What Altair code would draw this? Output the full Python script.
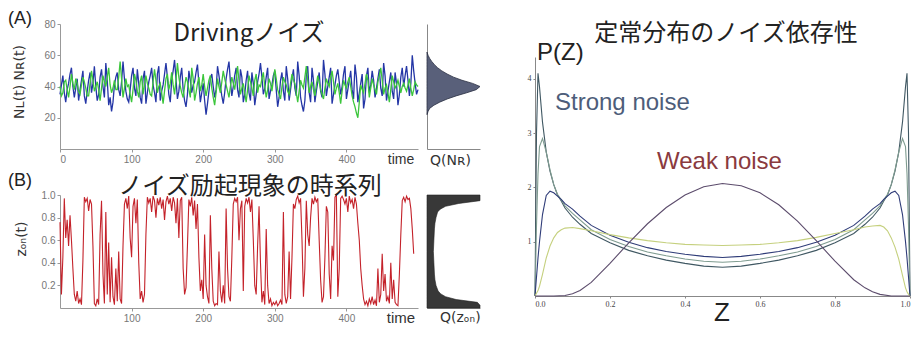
import altair as alt
import pandas as pd

# ---------------- Panel A : driving noise ----------------
A_BLUE = [35, 41, 47, 36, 30, 38, 42, 48, 52, 40,
          33, 39, 45, 31, 38, 44, 50, 34, 29, 37,
          44, 49, 36, 42, 53, 40, 31, 35, 46, 51,
          40, 33, 55, 44, 28, 33, 24, 30, 41, 46,
          49, 38, 34, 43, 56, 45, 37, 32, 30, 38,
          47, 52, 39, 34, 51, 42, 33, 29, 45, 50,
          29, 36, 43, 47, 52, 41, 36, 30, 48, 53,
          31, 37, 41, 48, 55, 46, 35, 30, 44, 50,
          57, 45, 32, 37, 46, 52, 38, 31, 27, 35,
          50, 44, 36, 41, 43, 49, 54, 42, 30, 36,
          42, 31, 22, 29, 37, 45, 48, 40, 33, 38,
          53, 47, 40, 34, 29, 36, 45, 51, 56, 43,
          34, 40, 47, 52, 38, 33, 51, 46, 30, 35,
          44, 50, 36, 31, 49, 42, 28, 35, 43, 48,
          55, 46, 35, 39, 46, 52, 32, 37, 41, 47,
          50, 38, 27, 33, 44, 49, 37, 31, 53, 45,
          31, 38, 45, 51, 39, 34, 56, 47, 33, 28,
          24, 31, 47, 53, 36, 30, 52, 44, 30, 37,
          43, 49, 37, 33, 57, 48, 34, 40, 46, 52,
          29, 35, 41, 47, 51, 43, 35, 40, 48, 53,
          32, 38, 44, 50, 38, 32, 54, 46, 30, 36,
          42, 48, 26, 32, 47, 52, 36, 41, 50, 44,
          33, 39, 45, 51, 39, 34, 55, 47, 31, 37,
          43, 49, 37, 32, 49, 42, 28, 35, 46, 52,
          40, 47, 53, 44, 34, 42, 60, 50, 42, 35,
          38]
A_GREEN = [40, 34, 36, 43, 44, 38, 33, 40, 48, 42,
           38, 45, 42, 37, 35, 41, 46, 43, 39, 34,
           34, 42, 50, 44, 37, 40, 43, 38, 31, 39,
           47, 43, 40, 46, 52, 41, 36, 39, 44, 38,
           38, 46, 56, 45, 33, 39, 45, 40, 41, 35,
           30, 38, 48, 44, 37, 33, 43, 47, 35, 41,
           47, 42, 39, 35, 34, 43, 51, 44, 36, 40,
           42, 36, 29, 37, 45, 48, 38, 42, 49, 41,
           35, 44, 55, 46, 40, 36, 33, 40, 46, 43,
           38, 33, 52, 45, 31, 36, 42, 46, 37, 41,
           48, 40, 34, 39, 44, 47, 39, 33, 28, 36,
           45, 40, 36, 43, 50, 45, 41, 37, 33, 40,
           46, 42, 38, 45, 53, 44, 35, 39, 42, 36,
           30, 38, 47, 43, 39, 34, 44, 48, 36, 41,
           40, 45, 49, 40, 33, 38, 45, 42, 37, 44,
           51, 45, 38, 35, 32, 40, 46, 43, 41, 37,
           35, 42, 48, 44, 42, 36, 30, 37, 44, 41,
           39, 46, 53, 44, 36, 40, 43, 38, 34, 41,
           47, 43, 38, 35, 32, 39, 45, 42, 40, 46,
           50, 43, 35, 39, 42, 36, 29, 37, 44, 41,
           39, 43, 46, 40, 34, 30, 27, 23, 20, 30,
           41, 38, 36, 42, 48, 44, 33, 39, 45, 41,
           38, 35, 43, 47, 52, 44, 35, 39, 41, 36,
           30, 38, 47, 43, 39, 41, 44, 40, 36, 40,
           42, 39, 37, 41, 45, 39, 34, 38, 43, 41,
           40]
A_STEP = 2
A_HIST_N = [22, 24, 26, 28, 30, 32, 34, 36, 38, 40, 42,
            44, 46, 48, 50, 52, 54, 56, 58, 60, 62]
A_HIST_Q = [0.0, 0.02, 0.05, 0.13, 0.24, 0.38, 0.55, 0.75, 0.93, 1.0, 0.86,
            0.66, 0.5, 0.38, 0.28, 0.2, 0.14, 0.09, 0.05, 0.02, 0.0]
A_XTICKS = [0, 100, 200, 300, 400]
A_YTICKS = [20, 40, 60, 80]

# ---------------- Panel B : noise induced switching ----------------
B_Z = [0.76, 0.12, 0.45, 0.97, 0.62, 0.78, 0.55, 0.82, 0.6, 0.35,
       0.12, 0.06, 0.15, 0.04, 0.08, 0.03, 0.42, 0.98, 0.94, 0.97,
       0.86, 0.96, 0.92, 0.55, 0.04, 0.02, 0.08, 0.03, 0.65, 0.95,
       0.3, 0.04, 0.85, 0.12, 0.58, 0.05, 0.45, 0.1, 0.03, 0.35,
       0.06, 0.5, 0.08, 0.04, 0.55, 0.92, 0.97, 0.88, 0.99, 0.62,
       0.45, 0.9, 0.97, 0.75, 0.96, 0.4, 0.08, 0.15, 0.05, 0.12,
       0.65, 0.98, 0.93, 0.97, 0.85, 0.99, 0.95, 0.8, 0.97, 0.91,
       0.98, 0.88, 0.96, 0.78, 0.94, 0.99, 0.92, 0.97, 0.86, 0.98,
       0.93, 0.75, 0.97, 0.62, 0.95, 0.98, 0.35, 0.12, 0.18, 0.55,
       0.96, 0.9, 0.98, 0.82, 0.95, 0.7, 0.92, 0.45, 0.15, 0.25,
       0.08, 0.65, 0.2, 0.1, 0.04, 0.82, 0.35, 0.06, 0.02, 0.04,
       0.03, 0.5, 0.15, 0.05, 0.2, 0.04, 0.88, 0.35, 0.1, 0.06,
       0.45, 0.92, 0.97, 0.94, 0.98, 0.6, 0.88, 0.95, 0.15, 0.9,
       0.97, 0.93, 0.98, 0.85, 0.96, 0.6, 0.2, 0.12, 0.55, 0.9,
       0.4, 0.05, 0.15, 0.03, 0.7, 0.2, 0.04, 0.08, 0.02, 0.05,
       0.03, 0.06, 0.02, 0.04, 0.07, 0.03, 0.85, 0.12, 0.04, 0.1,
       0.5, 0.08, 0.45, 0.92, 0.88, 0.96, 0.99, 0.93, 0.97, 0.6,
       0.1, 0.35, 0.95, 0.65, 0.55, 0.8, 0.97, 0.92, 0.98, 0.94,
       0.97, 0.6, 0.25, 0.05, 0.1, 0.45, 0.9, 0.85, 0.3, 0.08,
       0.55, 0.42, 0.98, 1.0, 0.1, 0.35, 0.97, 0.99, 0.96, 0.92,
       0.97, 0.85, 0.99, 0.93, 0.96, 0.88, 0.98, 0.92, 0.75, 0.6,
       0.35, 0.2, 0.08, 0.03, 0.06, 0.02, 0.08, 0.04, 0.1, 0.03,
       0.07, 0.02, 0.35, 0.05, 0.12, 0.48, 0.15, 0.3, 0.06, 0.1,
       0.04, 0.4, 0.08, 0.25, 0.05, 0.03, 0.02, 0.3, 0.65, 0.95,
       0.98, 0.94, 0.99, 0.96, 0.97, 0.88, 0.7, 0.48]
B_STEP = 2
B_HIST_Z = [0.0, 0.025, 0.05, 0.075, 0.1, 0.125, 0.15, 0.2, 0.25, 0.3, 0.4, 0.5,
            0.6, 0.7, 0.75, 0.8, 0.85, 0.875, 0.9, 0.925, 0.95, 0.975, 1.0]
B_HIST_Q = [1.6, 1.45, 0.95, 0.55, 0.35, 0.26, 0.21, 0.17, 0.15, 0.14, 0.13, 0.12,
            0.13, 0.14, 0.15, 0.17, 0.2, 0.25, 0.35, 0.6, 1.05, 1.5, 1.6]
B_XTICKS = [100, 200, 300, 400]
B_YTICKS = [0.2, 0.4, 0.6, 0.8, 1.0]

# ---------------- Right panel : stationary distributions ----------------
R_ZU = [0, 0.004, 0.008, 0.012, 0.02, 0.03, 0.04, 0.05, 0.06, 0.07, 0.08, 0.1,
        0.12, 0.15, 0.2, 0.25, 0.3, 0.35, 0.4, 0.45, 0.5,
        0.55, 0.6, 0.65, 0.7, 0.75, 0.8, 0.85, 0.88, 0.9, 0.92, 0.93, 0.94,
        0.95, 0.96, 0.97, 0.98, 0.988, 0.992, 0.996, 1.0]
R_C1 = [0, 3.0, 4.1, 3.85, 3.2, 2.65, 2.3, 2.05, 1.86, 1.75, 1.62, 1.45,
        1.32, 1.15, 0.98, 0.84, 0.74, 0.66, 0.6, 0.55, 0.53,
        0.55, 0.6, 0.66, 0.74, 0.84, 0.98, 1.15, 1.32, 1.45, 1.62, 1.75, 1.86,
        2.05, 2.3, 2.65, 3.2, 3.85, 4.1, 3.0, 0]
R_C2 = [0, 1.3, 2.25, 2.75, 2.9, 2.65, 2.32, 2.05, 1.87, 1.77, 1.66, 1.52,
        1.4, 1.22, 1.04, 0.91, 0.81, 0.74, 0.68, 0.64, 0.62,
        0.64, 0.68, 0.74, 0.81, 0.91, 1.04, 1.22, 1.4, 1.52, 1.66, 1.77, 1.87,
        2.05, 2.32, 2.65, 2.9, 2.75, 2.25, 1.3, 0]
R_C3 = [0, 0.35, 0.7, 1.0, 1.5, 1.85, 1.93, 1.9, 1.84, 1.78, 1.7, 1.6,
        1.47, 1.3, 1.12, 0.99, 0.89, 0.82, 0.77, 0.73, 0.71,
        0.73, 0.77, 0.82, 0.89, 0.99, 1.12, 1.3, 1.47, 1.6, 1.7, 1.78, 1.84,
        1.9, 1.93, 1.85, 1.5, 1.0, 0.7, 0.35, 0]
R_C4 = [0, 0.05, 0.1, 0.18, 0.4, 0.7, 0.92, 1.07, 1.17, 1.22, 1.25, 1.26,
        1.24, 1.2, 1.13, 1.07, 1.02, 0.98, 0.95, 0.94, 0.93,
        0.94, 0.95, 0.98, 1.02, 1.08, 1.15, 1.22, 1.27, 1.29, 1.3, 1.27, 1.2,
        1.07, 0.9, 0.68, 0.38, 0.15, 0.08, 0.03, 0]
R_ZB = [0, 0.05, 0.08, 0.1, 0.12, 0.15, 0.2, 0.25, 0.3, 0.35, 0.4, 0.45, 0.5,
        0.55, 0.6, 0.65, 0.7, 0.75, 0.8, 0.85, 0.88, 0.9, 0.92, 0.95, 1.0]
R_BELL = [0, 0, 0.01, 0.04, 0.1, 0.25, 0.6, 0.98, 1.33, 1.63, 1.86, 2.01, 2.07,
          2.03, 1.9, 1.68, 1.38, 1.02, 0.64, 0.3, 0.15, 0.08, 0.03, 0, 0]
R_NAMES = ["c1", "c2", "c3", "c4", "weak"]
R_COLORS = ["#405863", "#7f9c90", "#2f3c78", "#c5d07e", "#5c4c6c"]
R_XTICKS = [0.0, 0.2, 0.4, 0.6, 0.8, 1.0]
R_YTICKS = [1, 2, 3, 4]

SANS = "Liberation Sans"
JP = "Noto Sans CJK JP"
SERIF = "Liberation Serif"
W, H = 904, 320

# pixel ranges of the five sub-panels inside the single canvas
A_XR, A_YR = [52, 410], [141, 16]
AH_XR = [419, 472]
B_XR, B_YR = [52, 410], [300, 187]
R_XR, R_YR = [527, 902], [288, 49]


def label(text, x, y, size, color="#222222", font=SANS, align="left",
          baseline="alphabetic", angle=0):
    return alt.Chart(pd.DataFrame({"t": [text]})).mark_text(
        align=align, baseline=baseline, font=font, fontSize=size,
        color=color, angle=angle
    ).encode(x=alt.value(x), y=alt.value(y), text="t:N")


def scale(domain, rng, clamp=False):
    return alt.Scale(domain=domain, range=rng, nice=False, zero=False, clamp=clamp)


def gray_axis(orient, offset, values, fmt=None):
    kw = dict(orient=orient, offset=offset, values=values, title=None, grid=False,
              labelFont=SANS, labelFontSize=10, labelColor="#777777",
              tickColor="#999999", domainColor="#999999", tickSize=3, labelPadding=2)
    if fmt:
        kw["format"] = fmt
    return alt.Axis(**kw)


def bare_axis(orient, offset):
    return alt.Axis(orient=orient, offset=offset, labels=False, ticks=False,
                    title=None, grid=False, domainColor="#888888")


# ---- panel A ----
dfA_blue = pd.DataFrame({"t": [i * A_STEP for i in range(len(A_BLUE))], "v": A_BLUE})
dfA_green = pd.DataFrame({"t": [i * A_STEP for i in range(len(A_GREEN))], "v": A_GREEN})
blue = alt.Chart(dfA_blue).mark_line(color="#2436a6", strokeWidth=1.3).encode(
    x=alt.X("t:Q", scale=scale([0, 500], A_XR), axis=gray_axis("bottom", A_YR[0] - H, A_XTICKS)),
    y=alt.Y("v:Q", scale=scale([0, 80], A_YR), axis=gray_axis("left", -A_XR[0], A_YTICKS)),
)
green = alt.Chart(dfA_green).mark_line(color="#3cc63c", strokeWidth=1.3).encode(
    x=alt.X("t:Q", scale=scale([0, 500], A_XR), axis=None),
    y=alt.Y("v:Q", scale=scale([0, 80], A_YR), axis=None),
)
dfAh = pd.DataFrame({"n": A_HIST_N, "q": A_HIST_Q})
histA = alt.Chart(dfAh).mark_area(orient="horizontal", color="#59607a",
                                  stroke="#2b3042", strokeWidth=0.8).encode(
    x=alt.X("q:Q", stack=None, scale=scale([0, 1], AH_XR, True),
            axis=bare_axis("bottom", A_YR[0] - H)),
    y=alt.Y("n:Q", scale=scale([0, 80], A_YR), axis=bare_axis("left", -AH_XR[0])),
)

# ---- panel B ----
dfB = pd.DataFrame({"t": [i * B_STEP for i in range(len(B_Z))], "z": B_Z})
lineB = alt.Chart(dfB).mark_line(color="#c4222a", strokeWidth=1.1).encode(
    x=alt.X("t:Q", scale=scale([0, 500], B_XR), axis=gray_axis("bottom", B_YR[0] - H, B_XTICKS)),
    y=alt.Y("z:Q", scale=scale([0, 1], B_YR), axis=gray_axis("left", -B_XR[0], B_YTICKS, ".1f")),
)
dfBh = pd.DataFrame({"z": B_HIST_Z, "q": B_HIST_Q})
histB = alt.Chart(dfBh).mark_area(orient="horizontal", color="#383838",
                                  stroke="#222222", strokeWidth=0.6).encode(
    x=alt.X("q:Q", stack=None, scale=scale([0, 1], AH_XR, True),
            axis=bare_axis("bottom", B_YR[0] - H)),
    y=alt.Y("z:Q", scale=scale([0, 1], B_YR), axis=bare_axis("left", -AH_XR[0])),
)

# ---- right panel ----
rows = []
for name, vals in zip(R_NAMES[:4], [R_C1, R_C2, R_C3, R_C4]):
    rows += [{"z": z, "p": p, "c": name} for z, p in zip(R_ZU, vals)]
rows += [{"z": z, "p": p, "c": "weak"} for z, p in zip(R_ZB, R_BELL)]
dfR = pd.DataFrame(rows)
serif = dict(title=None, grid=False, labelFont=SERIF, labelFontSize=8,
             labelColor="#444444", tickColor="#888888", domainColor="#888888",
             tickSize=2, labelPadding=2)
curves = alt.Chart(dfR).mark_line(strokeWidth=1.1).encode(
    x=alt.X("z:Q", scale=scale([0, 1], R_XR),
            axis=alt.Axis(orient="bottom", offset=R_YR[0] - H, values=R_XTICKS,
                          format=".1f", labelFlush=True, **serif)),
    y=alt.Y("p:Q", scale=scale([0, 4.4], R_YR),
            axis=alt.Axis(orient="left", offset=-R_XR[0], values=R_YTICKS, **serif)),
    color=alt.Color("c:N", scale=alt.Scale(domain=R_NAMES, range=R_COLORS), legend=None),
    detail="c:N",
)

texts = [
    label("(A)", 0, 16, 18),
    label("Drivingノイズ", 241, 33, 24, font=JP, align="center"),
    label("Nʟ(t)  Nʀ(t)", 12, 74, 14, color="#333333", font="DejaVu Sans",
          align="center", baseline="middle", angle=270),
    label("time", 393, 156, 14, color="#333333", align="center"),
    label("Q(Nʀ)", 422, 157, 14, color="#333333", font="DejaVu Sans"),
    label("(B)", 0, 178, 18),
    label("ノイズ励起現象の時系列", 242, 186, 24, font=JP, align="center"),
    label("zₒₙ(t)", 14, 231, 14, color="#333333", font="DejaVu Sans",
          align="center", baseline="middle", angle=270),
    label("time", 393, 315, 15, color="#333333", align="center"),
    label("Q(zₒₙ)", 432, 314, 14, color="#333333", font="DejaVu Sans"),
    label("定常分布のノイズ依存性", 718, 33, 24, font=JP, align="center"),
    label("P(Z)", 529, 52, 24),
    label("Strong noise", 547, 102, 24, color="#4d5d7a"),
    label("Weak noise", 649, 161, 24, color="#8a3a3e"),
    label("Z", 714, 313, 26, align="center"),
]

chart = alt.layer(blue, green, histA, lineB, histB, curves, *texts).resolve_scale(
    x="independent", y="independent"
).resolve_axis(
    x="independent", y="independent"
).properties(
    width=W, height=H, padding=0, background="white",
    autosize=alt.AutoSizeParams(type="none")
).configure_view(stroke=None)

chart.save("out.html", embed_options={"renderer": "svg", "actions": False})
